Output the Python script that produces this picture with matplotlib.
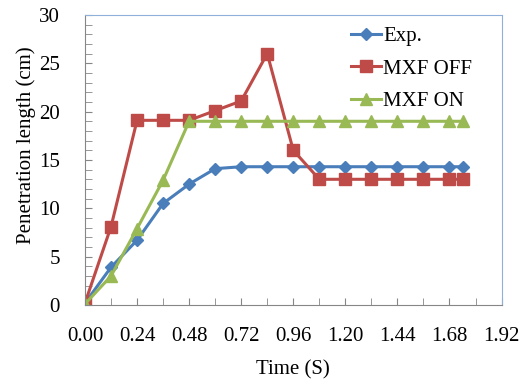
import matplotlib
matplotlib.use("Agg")
import matplotlib.pyplot as plt
from matplotlib.ticker import MultipleLocator

plt.rcParams['font.family'] = ['Liberation Serif', 'DejaVu Serif']

time_s = [0.00, 0.12, 0.24, 0.36, 0.48, 0.60, 0.72, 0.84, 0.96, 1.08,
          1.20, 1.32, 1.44, 1.56, 1.68, 1.74]
exp_len = [0.2, 3.9, 6.7, 10.5, 12.5, 14.1, 14.3, 14.3, 14.3, 14.3,
           14.3, 14.3, 14.3, 14.3, 14.3, 14.3]
mxf_off = [0.2, 8.1, 19.1, 19.1, 19.1, 20.1, 21.1, 26.0, 16.0, 13.0,
           13.0, 13.0, 13.0, 13.0, 13.0, 13.0]
mxf_on = [0.1, 3.0, 7.9, 12.9, 19.0, 19.0, 19.0, 19.0, 19.0, 19.0,
          19.0, 19.0, 19.0, 19.0, 19.0, 19.0]

fig = plt.figure(figsize=(5.23, 3.83), dpi=100)
ax = fig.add_axes([0.1625, 0.2037, 0.7965, 0.7573])

ax.plot(time_s, exp_len, marker='D', markersize=6, color='#4A7EBB', lw=2.2, label='Exp.')
ax.plot(time_s, mxf_off, marker='s', markersize=8, color='#BE4B48', lw=2.2, label='MXF OFF')
ax.plot(time_s, mxf_on, marker='^', markersize=8, color='#98B954', lw=2.2, label='MXF ON')

ax.set_xlim(0, 1.92)
ax.set_ylim(0, 30)
ax.xaxis.set_major_locator(MultipleLocator(0.24))
ax.xaxis.set_minor_locator(MultipleLocator(0.12))
ax.yaxis.set_major_locator(MultipleLocator(5))
ax.yaxis.set_minor_locator(MultipleLocator(1))
ax.xaxis.set_major_formatter(plt.FormatStrFormatter('%.2f'))

ax.tick_params(axis='both', which='both', direction='in', color='#868686', labelsize=15)
ax.tick_params(axis='x', which='both', length=5, pad=16)
ax.tick_params(axis='y', which='both', length=5, pad=18)

for s in ['left', 'bottom']:
    ax.spines[s].set_color('#868686')
for s in ['top', 'right']:
    ax.spines[s].set_color('#8EB0DA')

ax.set_xlabel('Time (S)', fontsize=15, labelpad=10)
ax.set_ylabel('Penetration length (cm)', fontsize=15)
ax.yaxis.set_label_coords(-0.118, 0.55)

ax.legend(loc='upper right', bbox_to_anchor=(0.965, 1.01), frameon=False, fontsize=15,
          handlelength=1.45, handletextpad=0.1, labelspacing=0.62, borderaxespad=0.3)

fig.savefig('out.png', dpi=100)
